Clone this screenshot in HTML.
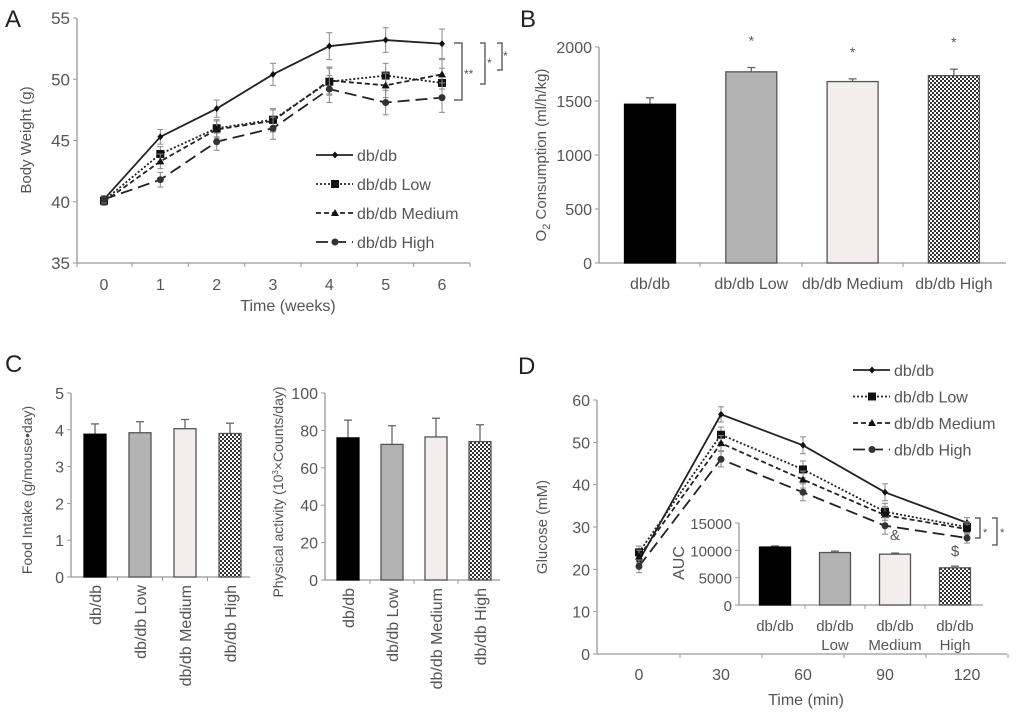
<!DOCTYPE html>
<html><head><meta charset="utf-8"><style>
body{margin:0;background:#fff;}
svg{display:block;font-family:"Liberation Sans",Arial,sans-serif;}
text{fill:#555;}
</style></head><body>
<svg id="fig" width="1016" height="715" viewBox="0 0 1016 715">
<defs>
<pattern id="chk" width="4" height="4" patternUnits="userSpaceOnUse"><rect width="4" height="4" fill="#fff"/><rect width="2" height="2" fill="#333"/><rect x="2" y="2" width="2" height="2" fill="#333"/></pattern>
</defs>
<g id="gA"></g>
<g id="gB"></g>
<g id="gC1"></g>
<g id="gC2"></g>
<g id="gD"></g>
<g id="gI"></g>
</svg>
<script>
// Panel A data
const weeks=[0,1,2,3,4,5,6];
const aDbdb=[40.2,45.3,47.6,50.4,52.7,53.2,52.9];
const aLow=[40.1,43.9,46.0,46.7,49.8,50.3,49.7];
const aMed=[40.0,43.3,45.9,46.6,49.9,49.5,50.4];
const aHigh=[40.2,41.8,44.9,46.0,49.2,48.1,48.5];
const aErr=[0.3,0.6,0.7,0.9,1.1,1.0,1.2];
const aTicks=[35,40,45,50,55];
// Panel B data
const groups=["db/db","db/db Low","db/db Medium","db/db High"];
const bVals=[1470,1770,1680,1735];
const bErr=[60,40,25,60];
const bTicks=[0,500,1000,1500,2000];
// Panel C data
const cFood=[3.88,3.92,4.03,3.9];
const cFoodErr=[0.28,0.3,0.25,0.28];
const cFoodTicks=[0,1,2,3,4,5];
const cAct=[76,72.5,76.5,74];
const cActErr=[9.5,10,10,9];
const cActTicks=[0,20,40,60,80,100];
// Panel D data
const minutes=[0,30,60,90,120];
const dDbdb=[22,56.6,49.3,38.2,31];
const dLow=[24,51.8,43.6,33.6,30];
const dMed=[23,49.8,41.2,32.8,29.5];
const dHigh=[20.7,46,38.2,30.3,27.4];
const dErr=[1.5,1.8,2,2,1.2];
const dTicks=[0,10,20,30,40,50,60];
const aucVals=[10600,9600,9300,6800];
const aucErr=[200,250,200,300];
const aucTicks=[0,5000,10000,15000];
const fills=["#000","#b3b3b3","#f3eded","url(#chk)"];

const NS="http://www.w3.org/2000/svg";
function el(p,t,a,txt){const e=document.createElementNS(NS,t);for(const k in a)e.setAttribute(k,a[k]);if(txt!=null)e.textContent=txt;p.appendChild(e);return e;}
function lin(d0,d1,r0,r1){return v=>r0+(v-d0)*(r1-r0)/(d1-d0);}
const AX="#999";

function yAxis(g,x,y,ticks,x1,fs){
  const a=el(g,'line',{x1:x,y1:y(ticks[ticks.length-1]),x2:x,y2:y(ticks[0]),stroke:AX,'stroke-width':1.3});
  
  const b=el(g,'line',{x1:x,y1:y(ticks[0]),x2:x1,y2:y(ticks[0]),stroke:AX,'stroke-width':1.3});
  
  ticks.forEach(t=>{el(g,'line',{x1:x-4,y1:y(t),x2:x,y2:y(t),stroke:AX});
    const tx=el(g,'text',{x:x-7,y:y(t)+6,'text-anchor':'end','font-size':fs||16},t);
    });
}
function bars(g,x,y,vals,errs,w){
  vals.forEach((v,i)=>{const cx=x(i);
    el(g,'line',{x1:cx,y1:y(v),x2:cx,y2:y(v+errs[i]),stroke:'#666','stroke-width':1.3});
    el(g,'line',{x1:cx-4,y1:y(v+errs[i]),x2:cx+4,y2:y(v+errs[i]),stroke:'#666','stroke-width':1.3});
    const r=el(g,'rect',{x:cx-w/2,y:y(v),width:w,height:y(0)-y(v),fill:fills[i],stroke:i==0?'#000':'#555','stroke-width':1.3});
    
    });
}
const styles=[{d:'',m:'dia'},{d:'2,2',m:'sq'},{d:'5,3',m:'tri'},{d:'12,6',m:'circ'}];
function marker(g,x,y,m){
  if(m=='dia')el(g,'path',{d:`M${x} ${y-3.5}L${x+3} ${y}L${x} ${y+3.5}L${x-3} ${y}Z`,fill:'#111'});
  else if(m=='sq')el(g,'rect',{x:x-4,y:y-4,width:8,height:8,fill:'#111'});
  else if(m=='tri')el(g,'path',{d:`M${x} ${y-4}L${x+4} ${y+3}L${x-4} ${y+3}Z`,fill:'#111'});
  else el(g,'circle',{cx:x,cy:y,r:3.5,fill:'#333'});
}
function series(g,xs,vals,errs,x,y,s,name){
  vals.forEach((v,i)=>{el(g,'line',{x1:x(xs[i]),y1:y(v-errs[i]),x2:x(xs[i]),y2:y(v+errs[i]),stroke:'#888'});
    el(g,'line',{x1:x(xs[i])-3,y1:y(v+errs[i]),x2:x(xs[i])+3,y2:y(v+errs[i]),stroke:'#888'});
    el(g,'line',{x1:x(xs[i])-3,y1:y(v-errs[i]),x2:x(xs[i])+3,y2:y(v-errs[i]),stroke:'#888'});});
  const p=el(g,'polyline',{points:vals.map((v,i)=>x(xs[i])+','+y(v)).join(' '),fill:'none',stroke:'#222','stroke-width':1.8,'stroke-dasharray':s.d});
  
  vals.forEach((v,i)=>marker(g,x(xs[i]),y(v),s.m));
}
function legend(g,x0,y0,dy){
  groups.forEach((n,i)=>{const yy=y0+i*dy;
    const lg=el(g,'g',{});
    el(lg,'line',{x1:x0,y1:yy,x2:x0+37,y2:yy,stroke:'#222','stroke-width':1.8,'stroke-dasharray':styles[i].d});
    marker(lg,x0+19,yy,styles[i].m);
    el(lg,'text',{x:x0+41,y:yy+6,'font-size':16},n);});
}
function label(g,x,y,t,name){const e=el(g,'text',{x:x,y:y,'font-size':24,fill:'#222'},t);e.style.fill='#222';}
function ytitle(g,x,y,t,name,fs){const e=el(g,'text',{x:x,y:y,transform:`rotate(-90 ${x} ${y})`,'text-anchor':'middle','font-size':fs||14},t);return e;}

// Panel A
(function(){const g=document.getElementById('gA');
  const x=lin(0,6,104,442),y=lin(35,55,263,18);
  yAxis(g,77,y,aTicks,470,17);
  weeks.forEach(w=>{el(g,'line',{x1:x(w)+28,y1:263,x2:x(w)+28,y2:267,stroke:AX});
    el(g,'text',{x:x(w),y:290,'text-anchor':'middle','font-size':16},w);});
  el(g,'line',{x1:77,y1:263,x2:77,y2:267,stroke:AX});
  [aDbdb,aLow,aMed,aHigh].forEach((s,i)=>series(g,weeks,s,aErr,x,y,styles[i],['dbdb','low','medium','high'][i]));
  legend(g,316,155,29);
  const xt=el(g,'text',{x:288,y:311,'text-anchor':'middle','font-size':16},'Time (weeks)');
  ytitle(g,31,140,'Body Weight (g)','y-axis-title',15);
  label(g,5,27,'A','panel-label-a');
  [[454,462,43,100],[480,485,43,84],[497,502,43,70]].forEach(b=>el(g,'path',{d:`M${b[0]} ${b[2]}H${b[1]}V${b[3]}H${b[0]}`,fill:'none',stroke:'#666','stroke-width':1.5}));
  el(g,'text',{x:464,y:78,'font-size':12},'**');el(g,'text',{x:487,y:67,'font-size':12},'*');el(g,'text',{x:503,y:60,'font-size':12},'*');
})();
// Panel B
(function(){const g=document.getElementById('gB');
  const y=lin(0,2000,263,47),x=i=>650+i*101.3;
  yAxis(g,599,y,bTicks,1006,16);
  [700,802,903].forEach(t=>el(g,'line',{x1:t,y1:263,x2:t,y2:267,stroke:AX}));
  bars(g,x,y,bVals,bErr,51);
  groups.forEach((n,i)=>{el(g,'text',{x:x(i),y:289,'text-anchor':'middle','font-size':16},n);
    if(i>0)el(g,'text',{x:x(i),y:y(bVals[i]+bErr[i])-22,'text-anchor':'middle','font-size':14},'*');});
  const t=ytitle(g,546,155,'','y-axis-title',15);
  t.innerHTML='O<tspan dy="4" font-size="11">2</tspan><tspan dy="-4"> Consumption (ml/h/kg)</tspan>';
  label(g,520,27,'B','panel-label-b');
})();
// Panel C
function panelC(g,ax,y0,y1,ticks,vals,errs,x0,dx,xr,tname,ttl,tx){
  const y=lin(ticks[0],ticks[ticks.length-1],y0,y1),x=i=>x0+i*dx;
  yAxis(g,ax,y,ticks,xr,16);
  [1,2,3].forEach(k=>el(g,'line',{x1:x0+(k-0.5)*dx,y1:y0,x2:x0+(k-0.5)*dx,y2:y0+4,stroke:AX}));
  bars(g,x,y,vals,errs,22);
  groups.forEach((n,i)=>{const yy=y0+8;el(g,'text',{x:x(i)+6,y:yy,transform:`rotate(-90 ${x(i)+6} ${yy})`,'text-anchor':'end','font-size':16},n);});
  ytitle(g,tx,(y0+y1)/2+5,ttl,tname,14);
}
panelC(document.getElementById('gC1'),71,577,393,cFoodTicks,cFood,cFoodErr,95,45,250,'y-axis-title-food','Food Intake (g/mouse•day)',32);
(function(){const g=document.getElementById('gC2');
  panelC(g,325,580,393,cActTicks,cAct,cActErr,348,44,500,'y-axis-title-activity','',283);
  const t=el(g,'text',{x:283,y:492,transform:'rotate(-90 283 492)','text-anchor':'middle','font-size':14});
  t.innerHTML='Physical activity (10<tspan dy="-5" font-size="8">3</tspan><tspan dy="5">×Counts/day)</tspan>';
  label(g,5,372,'C','panel-label-c');
})();
// Panel D
(function(){const g=document.getElementById('gD');
  const x=lin(0,120,639,967),y=lin(0,60,654,400);
  yAxis(g,597,y,dTicks,1007,16);
  [0,1,2,3,4].forEach(k=>el(g,'line',{x1:x(15+30*k),y1:654,x2:x(15+30*k),y2:658,stroke:AX}));
  minutes.forEach(m=>el(g,'text',{x:x(m),y:680,'text-anchor':'middle','font-size':16},m));
  [dDbdb,dLow,dMed,dHigh].forEach((s,i)=>series(g,minutes,s,dErr,x,y,styles[i],['dbdb','low','medium','high'][i]));
  legend(g,853,370,26.5);
  const xt=el(g,'text',{x:806,y:705,'text-anchor':'middle','font-size':16},'Time (min)');
  ytitle(g,547,527,'Glucose (mM)','y-axis-title',15);
  label(g,518,374,'D','panel-label-d');
  [[975,980,518,538],[992,997,518,545]].forEach(b=>el(g,'path',{d:`M${b[0]} ${b[2]}H${b[1]}V${b[3]}H${b[0]}`,fill:'none',stroke:'#666','stroke-width':1.5}));
  el(g,'text',{x:983,y:536,'font-size':11},'*');el(g,'text',{x:1000,y:536,'font-size':11},'*');
})();
// Inset
(function(){const g=document.getElementById('gI');
  const y=lin(0,15000,605,523),x=i=>775+i*60;
  yAxis(g,739,y,aucTicks,983,15);
  [805,865,925].forEach(t=>el(g,'line',{x1:t,y1:605,x2:t,y2:609,stroke:AX}));
  bars(g,x,y,aucVals,aucErr,31);
  [['db/db',''],['db/db','Low'],['db/db','Medium'],['db/db','High']].forEach((l,i)=>{
    el(g,'text',{x:x(i),y:631,'text-anchor':'middle','font-size':15},l[0]);
    if(l[1])el(g,'text',{x:x(i),y:650,'text-anchor':'middle','font-size':15},l[1]);});
  el(g,'text',{x:x(2),y:y(aucVals[2])-14,'text-anchor':'middle','font-size':15},'&');
  el(g,'text',{x:x(3),y:y(aucVals[3])-12,'text-anchor':'middle','font-size':15},'$');
  ytitle(g,684,563,'AUC','inset-y-axis-title',16);
})();
</script>
</body></html>
